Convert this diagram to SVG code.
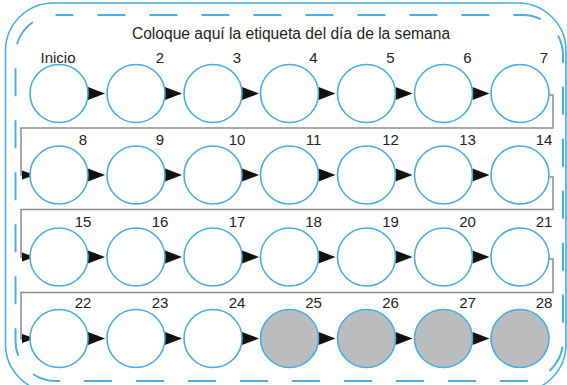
<svg xmlns="http://www.w3.org/2000/svg" xmlns:xlink="http://www.w3.org/1999/xlink" width="567" height="385" viewBox="0 0 567 385">
<style>
.frame{fill:none;stroke:#4aafe0;stroke-width:1.6}
.dash{fill:none;stroke:#4aafe0;stroke-width:2;stroke-dasharray:28 24}
.c{fill:#ffffff;stroke:#45aee0;stroke-width:1.6}
.g{fill:#bcbdbf;stroke:#45aee0;stroke-width:1.6}
.t{font-family:"Liberation Sans",Arial,sans-serif;font-size:15px;fill:#231f20;text-anchor:middle}
.title{font-family:"Liberation Sans",Arial,sans-serif;font-size:15.6px;fill:#231f20;text-anchor:middle}
.wire{fill:none;stroke:#8a8a8a;stroke-width:1.5}
.ah{fill:#111111}
</style>
<defs>
<path id="ah" d="M0,-6.5 L17,0 L0,6.5 Z"/>
<path id="ahs" d="M0,-4.5 L13,0 L0,4.5 Z"/>
</defs>
<rect class="frame" x="5.5" y="3" width="560.5" height="389" rx="48"/>
<rect class="dash" x="15.5" y="15" width="547.5" height="366" rx="40" stroke-dashoffset="10"/>
<text class="title" x="291" y="39">Coloque aquí la etiqueta del día de la semana</text>
<g id="connectors">
<path class="wire" d="M549,95 H553 V128 H21 V175 H24"/>
<path class="wire" d="M549,177 H553 V209.5 H21 V257 H24"/>
<path class="wire" d="M549,259 H553 V292.5 H21 V338.5 H24"/>
<g class="ah">
<use xlink:href="#ahs" x="22" y="175"/>
<use xlink:href="#ahs" x="22" y="257"/>
<use xlink:href="#ahs" x="22" y="338.5"/>
<use xlink:href="#ah" x="88" y="93.5"/><use xlink:href="#ah" x="165" y="93.5"/><use xlink:href="#ah" x="242" y="93.5"/><use xlink:href="#ah" x="318.5" y="93.5"/><use xlink:href="#ah" x="395.5" y="93.5"/><use xlink:href="#ah" x="472.5" y="93.5"/>
<use xlink:href="#ah" x="88" y="175"/><use xlink:href="#ah" x="165" y="175"/><use xlink:href="#ah" x="242" y="175"/><use xlink:href="#ah" x="318.5" y="175"/><use xlink:href="#ah" x="395.5" y="175"/><use xlink:href="#ah" x="472.5" y="175"/>
<use xlink:href="#ah" x="88" y="257"/><use xlink:href="#ah" x="165" y="257"/><use xlink:href="#ah" x="242" y="257"/><use xlink:href="#ah" x="318.5" y="257"/><use xlink:href="#ah" x="395.5" y="257"/><use xlink:href="#ah" x="472.5" y="257"/>
<use xlink:href="#ah" x="88" y="338.5"/><use xlink:href="#ah" x="165" y="338.5"/><use xlink:href="#ah" x="242" y="338.5"/><use xlink:href="#ah" x="318.5" y="338.5"/><use xlink:href="#ah" x="395.5" y="338.5"/><use xlink:href="#ah" x="472.5" y="338.5"/>
</g>
</g>
<g id="d1"><circle class="c" cx="59" cy="93.5" r="29"/><text class="t" x="58" y="63">Inicio</text></g>
<g id="d2"><circle class="c" cx="136" cy="93.5" r="29"/><text class="t" x="160" y="63">2</text></g>
<g id="d3"><circle class="c" cx="213" cy="93.5" r="29"/><text class="t" x="237" y="63">3</text></g>
<g id="d4"><circle class="c" cx="289.5" cy="93.5" r="29"/><text class="t" x="313.5" y="63">4</text></g>
<g id="d5"><circle class="c" cx="366.5" cy="93.5" r="29"/><text class="t" x="390.5" y="63">5</text></g>
<g id="d6"><circle class="c" cx="443.5" cy="93.5" r="29"/><text class="t" x="467.5" y="63">6</text></g>
<g id="d7"><circle class="c" cx="520" cy="93.5" r="29"/><text class="t" x="544" y="63">7</text></g>
<g id="d8"><circle class="c" cx="59" cy="175" r="29"/><text class="t" x="83" y="145">8</text></g>
<g id="d9"><circle class="c" cx="136" cy="175" r="29"/><text class="t" x="160" y="145">9</text></g>
<g id="d10"><circle class="c" cx="213" cy="175" r="29"/><text class="t" x="237" y="145">10</text></g>
<g id="d11"><circle class="c" cx="289.5" cy="175" r="29"/><text class="t" x="313.5" y="145">11</text></g>
<g id="d12"><circle class="c" cx="366.5" cy="175" r="29"/><text class="t" x="390.5" y="145">12</text></g>
<g id="d13"><circle class="c" cx="443.5" cy="175" r="29"/><text class="t" x="467.5" y="145">13</text></g>
<g id="d14"><circle class="c" cx="520" cy="175" r="29"/><text class="t" x="544" y="145">14</text></g>
<g id="d15"><circle class="c" cx="59" cy="257" r="29"/><text class="t" x="83" y="227">15</text></g>
<g id="d16"><circle class="c" cx="136" cy="257" r="29"/><text class="t" x="160" y="227">16</text></g>
<g id="d17"><circle class="c" cx="213" cy="257" r="29"/><text class="t" x="237" y="227">17</text></g>
<g id="d18"><circle class="c" cx="289.5" cy="257" r="29"/><text class="t" x="313.5" y="227">18</text></g>
<g id="d19"><circle class="c" cx="366.5" cy="257" r="29"/><text class="t" x="390.5" y="227">19</text></g>
<g id="d20"><circle class="c" cx="443.5" cy="257" r="29"/><text class="t" x="467.5" y="227">20</text></g>
<g id="d21"><circle class="c" cx="520" cy="257" r="29"/><text class="t" x="544" y="227">21</text></g>
<g id="d22"><circle class="c" cx="59" cy="338.5" r="29"/><text class="t" x="83" y="308">22</text></g>
<g id="d23"><circle class="c" cx="136" cy="338.5" r="29"/><text class="t" x="160" y="308">23</text></g>
<g id="d24"><circle class="c" cx="213" cy="338.5" r="29"/><text class="t" x="237" y="308">24</text></g>
<g id="d25"><circle class="g" cx="289.5" cy="338.5" r="29"/><text class="t" x="313.5" y="308">25</text></g>
<g id="d26"><circle class="g" cx="366.5" cy="338.5" r="29"/><text class="t" x="390.5" y="308">26</text></g>
<g id="d27"><circle class="g" cx="443.5" cy="338.5" r="29"/><text class="t" x="467.5" y="308">27</text></g>
<g id="d28"><circle class="g" cx="520" cy="338.5" r="29"/><text class="t" x="544" y="308">28</text></g>
</svg>
